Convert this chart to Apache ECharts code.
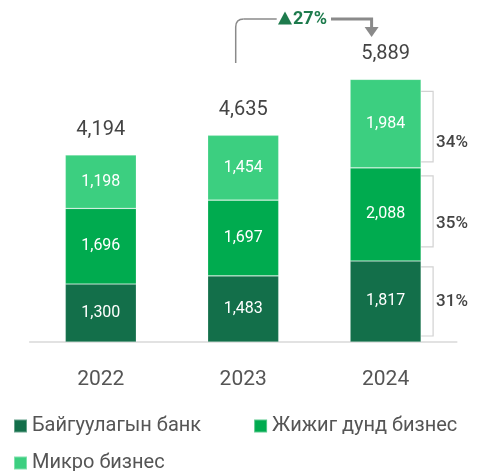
<!DOCTYPE html>
<html><head><meta charset="utf-8">
<script src="https://cdn.jsdelivr.net/npm/echarts@6/dist/echarts.min.js"></script>
<style>html,body{margin:0;padding:0;background:#fff}#c{width:477px;height:471px}</style>
</head><body><div id="c"></div>
<script>
const categories = ['2022', '2023', '2024'];
const corporate = [1300, 1483, 1817];
const sme = [1696, 1697, 2088];
const micro = [1198, 1454, 1984];
const totals = [4194, 4635, 5889];
const shares2024 = ['31%', '35%', '34%'];
const growthLabel = '27%';
const seriesNames = ['Байгуулагын банк', 'Жижиг дунд бизнес', 'Микро бизнес'];
const colors = ['#136f4a', '#00ab4f', '#3ccf80'];
const FONT = 'Roboto, "Noto Sans", sans-serif';
const fmt = v => v.toLocaleString('en-US');

const chart = echarts.init(document.getElementById('c'));
const segLabel = {show: true, position: 'inside', color: '#fff', fontSize: 16, fontFamily: FONT,
  formatter: p => fmt(p.value)};
function seg(name, data, color) {
  return {name, type: 'bar', stack: 'a', data, barWidth: 71,
    itemStyle: {color, borderColor: 'rgba(255,255,255,0.35)', borderWidth: 0.6},
    label: segLabel, emphasis: {disabled: true}};
}
const legendText = {fontSize: 20, color: '#555', fontFamily: FONT};
chart.setOption({
  animation: false,
  textStyle: {fontFamily: FONT},
  grid: {left: 29.6, right: 20.2, top: 74.4, bottom: 129, containLabel: false},
  legend: [
    {data: seriesNames.slice(0, 2), left: 13, top: 416, padding: 0, itemWidth: 13, itemHeight: 13, itemGap: 52,
      icon: 'rect', textStyle: legendText, selectedMode: false},
    {data: seriesNames.slice(2), left: 13, top: 453, padding: 0, itemWidth: 13, itemHeight: 13,
      icon: 'rect', textStyle: legendText, selectedMode: false}
  ],
  xAxis: {type: 'category', data: categories,
    axisLine: {lineStyle: {color: '#d9d9d9', width: 1.5}}, axisTick: {show: false},
    axisLabel: {fontSize: 21, color: '#555', margin: 27, fontFamily: FONT}},
  yAxis: {type: 'value', min: 0, max: 6000, show: false, splitLine: {show: false}},
  series: [
    seg(seriesNames[0], corporate, colors[0]),
    seg(seriesNames[1], sme, colors[1]),
    seg(seriesNames[2], micro, colors[2]),
    {name: 'total', type: 'bar', stack: 'a', data: totals.map(() => 0), barWidth: 71,
      itemStyle: {color: 'transparent'},
      label: {show: true, position: 'top', distance: 15, fontSize: 20, color: '#444', fontFamily: FONT,
        formatter: p => fmt(totals[p.dataIndex])}, emphasis: {disabled: true}}
  ]
});

// annotations positioned through the chart's own scales
const px = (i, v) => chart.convertToPixel({gridIndex: 0}, [i, v]);
const c23 = px(1, 0)[0], c24 = px(2, 0)[0];
const barRight = c24 + 35.5;
const bx = barRight + 12;
const bounds = [0, corporate[2], corporate[2] + sme[2], totals[2]].map(v => px(2, v)[1]);
const insets = [[6, 6], [8, 14], [12, 6]]; // [top inset, bottom inset]
const labelOff = [0, 9, 19];
const graphic = [];
for (let k = 0; k < 3; k++) {
  const yBot = bounds[k], yTop = bounds[k + 1];
  const t = yTop + insets[k][0], b = yBot - insets[k][1];
  graphic.push({type: 'polyline', shape: {points: [[barRight, t], [bx, t], [bx, b], [barRight, b]]},
    style: {stroke: '#d2d2d2', lineWidth: 1.2, fill: null}, silent: true});
  graphic.push({type: 'text', x: bx + 3, y: (yTop + yBot) / 2 + labelOff[k],
    style: {text: shares2024[k], fontSize: 17, fill: '#444', fontFamily: FONT, fontWeight: 500,
      verticalAlign: 'middle', align: 'left'}, silent: true});
}
// growth arrow
const lx = c23 - 7.5, rx = c24 - 14, hy = 19;
const grey = '#8a8a8a';
graphic.push({type: 'line', shape: {x1: lx, y1: 63, x2: lx, y2: hy + 8},
  style: {stroke: grey, lineWidth: 1.5}, silent: true});
graphic.push({type: 'bezierCurve', shape: {x1: lx, y1: hy + 8, cpx1: lx, cpy1: hy, x2: lx + 8, y2: hy},
  style: {stroke: grey, lineWidth: 1.5, fill: null}, silent: true});
graphic.push({type: 'line', shape: {x1: lx + 8, y1: hy, x2: lx + 41, y2: hy},
  style: {stroke: grey, lineWidth: 1.5}, silent: true});
graphic.push({type: 'polyline', shape: {points: [[331, hy], [rx, hy], [rx, 29]]},
  style: {stroke: grey, lineWidth: 3, fill: null}, silent: true});
graphic.push({type: 'polygon', shape: {points: [[rx - 7, 27], [rx + 7, 27], [rx, 37]]},
  style: {fill: grey}, silent: true});
graphic.push({type: 'polygon', shape: {points: [[278, 24.5], [292, 24.5], [285, 11.5]]},
  style: {fill: '#1e7b4d'}, silent: true});
graphic.push({type: 'text', x: 293, y: hy, style: {text: growthLabel, fontSize: 18, fontWeight: 'bold',
  fill: '#1e7b4d', fontFamily: FONT, verticalAlign: 'middle', align: 'left'}, silent: true});
chart.setOption({graphic});
</script></body></html>
